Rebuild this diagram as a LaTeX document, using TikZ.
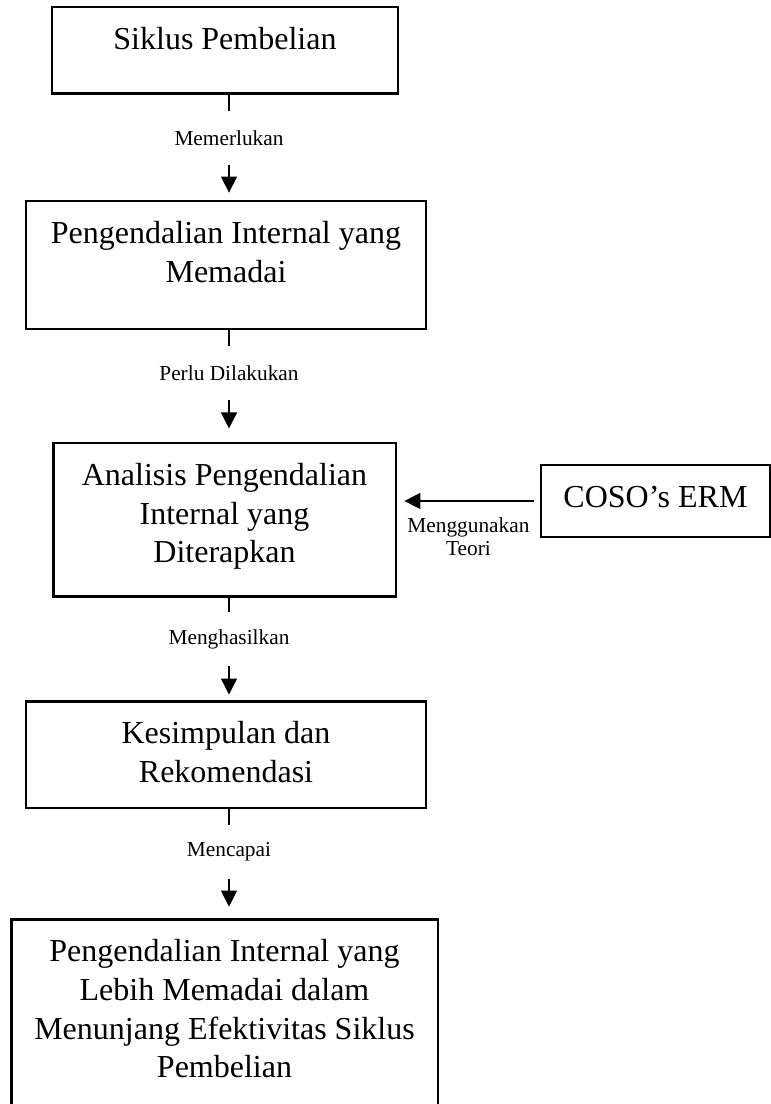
\documentclass[tikz,border=0pt]{standalone}
\usepackage{fontspec}
\setmainfont{Liberation Serif}
\usetikzlibrary{arrows.meta}
\tikzset{>={Triangle[length=6pt,width=6pt]}}
\tikzset{
  stage/.style = {draw, line width=1.1pt, inner sep=0pt, font=\fontsize{12}{14.6}\selectfont},
  link/.style = {line width=0.5pt},
  lbl/.style = {inner sep=0pt, font=\fontsize{8}{8.6}\selectfont},
  gap/.style = {lbl, minimum height=19.5pt}
}
\newcommand{\stagetext}[3]{\parbox[t][#2][t]{#1}{\centering\rule{0pt}{15.8pt}#3}}

\begin{document}
\begin{tikzpicture}[x=0.375pt, y=-0.375pt]
		\useasboundingbox (0,0) rectangle (771,1104);

		% Stages
		\node[stage] (siklus) at (225,50.5) {\stagetext{129.75pt}{32.6pt}{Siklus Pembelian}};
		\node[stage] (memadai) at (226,265) {\stagetext{150pt}{48pt}{Pengendalian Internal yang\\Memadai}};
		\node[stage] (analisis) at (224.5,519.5) {\stagetext{128.6pt}{57.4pt}{Analisis Pengendalian\\Internal yang\\Diterapkan}};
		\node[stage] (simpulan) at (226,754.5) {\stagetext{150pt}{40.1pt}{Kesimpulan dan\\Rekomendasi}};
		\node[stage] (tujuan) at (224.5,1014.5) {\stagetext{160.1pt}{71.6pt}{Pengendalian Internal yang\\Lebih Memadai dalam\\Menunjang Efektivitas Siklus\\Pembelian}};
		%
		\node[stage] (coso) at (655.5,501) {\stagetext{85.9pt}{27pt}{COSO’s ERM}};

		% Labels on the main flow
		\node[gap] (need) at (229,138) {Memerlukan};
		\node[gap] (perlu) at (229,373) {Perlu Dilakukan};
		\node[gap] (hasil) at (229,639) {Menghasilkan};
		\node[gap] (capai) at (229,852) {Mencapai};

		% Main flow
		\draw[link] (siklus.south -| need) -- (need.north);
		\draw[link, ->, shorten >=2.6pt] (need.south) -- (memadai.north -| need);
		%
		\draw[link] (memadai.south -| perlu) -- (perlu.north);
		\draw[link, ->, shorten >=4.9pt] (perlu.south) -- (analisis.north -| perlu);
		%
		\draw[link] (analisis.south -| hasil) -- (hasil.north);
		\draw[link, ->, shorten >=1.9pt] (hasil.south) -- (simpulan.north -| hasil);
		%
		\draw[link] (simpulan.south -| capai) -- (capai.north);
		\draw[link, ->, shorten >=4.1pt] (capai.south) -- (tujuan.north -| capai);

		% Theory
		\draw[link, ->, shorten <=1.9pt, shorten >=2.6pt] (coso.west) -- (coso.west -| analisis.east)
			node[lbl, midway, below=6pt, align=center] (teori) {Menggunakan\\Teori};
\end{tikzpicture}
\end{document}
